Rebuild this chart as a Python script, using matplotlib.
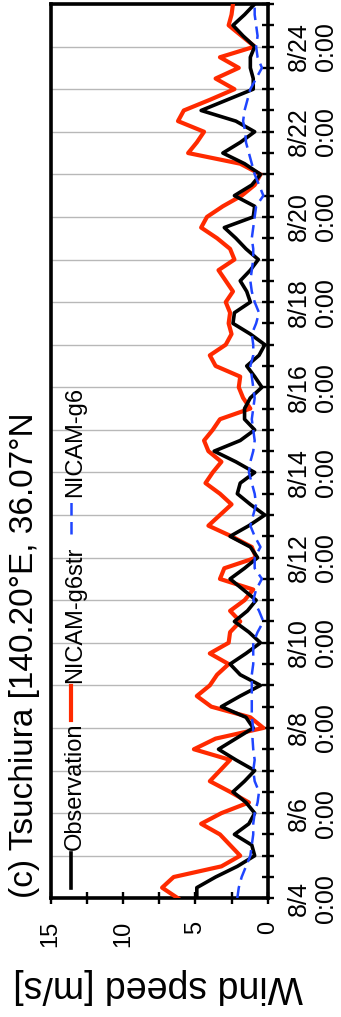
import numpy as np
import matplotlib
matplotlib.use("Agg")
import matplotlib.pyplot as plt
from matplotlib.lines import Line2D

plt.rcParams['font.family'] = ['Liberation Sans', 'DejaVu Sans']

# 6-hourly wind speed [m/s], starting 8/4 0:00
observation = [
    4.9, 4.9, 3.6, 2.1,
    0.9, 1.1, 2.3, 1.3,
    0.9, 1.5, 2.4, 1.6,
    0.9, 2.2, 3.4, 2.2,
    1.0, 1.5, 3.2, 1.9,
    0.5, 1.9, 2.6, 1.5,
    0.5, 1.3, 2.3, 1.4,
    0.8, 1.7, 2.6, 1.6,
    0.7, 1.2, 2.6, 1.3,
    0.2, 1.2, 2.1, 1.9,
    0.9, 2.2, 3.7, 1.9,
    0.9, 1.6, 1.6, 1.2,
    0.4, 0.9, 1.45, 0.6,
    0.2, 1.2, 2.4, 2.3,
    1.2, 1.45, 1.9, 1.2,
    0.65, 1.5, 2.2, 3.0,
    1.0, 0.9, 2.3, 1.1,
    0.5, 1.6, 3.1, 1.9,
    0.9, 2.2, 4.6, 2.8,
    1.0, 1.0, 1.2, 1.2,
    0.9, 1.7, 2.4, 1.6,
    0.9,
]
nicam_g6str = [
    6.2, 7.3, 6.5, 3.2,
    1.9, 2.6, 3.3, 4.6,
    3.2, 1.3, 2.6, 4.0,
    3.3, 2.6, 5.1, 3.6,
    0.3, 1.2, 3.9, 4.9,
    4.0, 3.5, 2.7, 4.0,
    2.7, 2.6, 1.9, 2.6,
    1.6, 1.0, 3.3, 3.0,
    0.8, 1.1, 2.5, 4.1,
    3.3, 2.5, 3.3, 4.3,
    3.8, 3.2, 4.1, 4.4,
    3.8, 3.3, 1.2, 1.7,
    2.0, 1.9, 3.6, 4.0,
    2.9, 2.5, 2.7, 2.6,
    2.9, 2.4, 2.9, 3.4,
    2.3, 2.6, 3.5, 4.6,
    4.2, 3.1, 1.8, 0.9,
    0.5, 1.9, 5.5, 4.9,
    4.4, 6.2, 5.8, 4.0,
    2.3, 3.6, 2.0, 3.3,
    0.9, 1.8, 2.7, 2.5,
    2.4,
]
nicam_g6 = [
    2.1, 2.0, 1.8, 1.5,
    1.2, 1.1, 1.0, 1.0,
    0.9, 0.7, 0.6, 0.9,
    1.0, 0.9, 1.0, 1.05,
    1.0, 1.1, 1.1, 1.1,
    1.1, 1.1, 1.0, 1.0,
    1.0, 0.7, 0.3, 0.6,
    1.0, 0.8, 0.4, 0.9,
    0.9, 0.5, 0.9, 1.2,
    1.0, 0.8, 0.9, 1.1,
    1.3, 1.2, 1.0, 0.9,
    1.0, 1.1, 1.0, 0.9,
    1.0, 1.1, 1.2, 1.0,
    1.0, 1.1, 0.8, 0.6,
    0.9, 1.1, 1.2, 1.1,
    1.0, 1.0, 1.1, 1.0,
    0.9, 0.8, 0.3, 0.6,
    0.9, 1.1, 1.3, 1.5,
    1.55, 1.7, 1.6, 1.4,
    1.2, 0.8, 0.4, 0.7,
    0.8, 0.7, 0.8, 0.9,
    0.9,
]
step_days = 0.25
date_labels = ["8/4\n0:00", "", "8/6\n0:00", "", "8/8\n0:00", "", "8/10\n0:00", "",
               "8/12\n0:00", "", "8/14\n0:00", "", "8/16\n0:00", "", "8/18\n0:00", "",
               "8/20\n0:00", "", "8/22\n0:00", "", "8/24\n0:00", ""]
speed_ticks = [0, 5, 10, 15]
speed_labels = ["0", "5", "10", "15"]
series_names = ["Observation", "NICAM-g6str", "NICAM-g6"]
title_text = "(c) Tsuchiura [140.20°E, 36.07°N"
axis_label = "Wind speed [m/s]"

W, H = 341, 1017
fig = plt.figure(figsize=(W / 100, H / 100), dpi=100)


def fx(px):
    return px / W


def fy(py):
    return 1 - py / H


ax_l, ax_r, ax_t, ax_b = 50.7, 267.7, 4.0, 898.3
ax = fig.add_axes([fx(ax_l), fy(ax_b), (ax_r - ax_l) / W, (ax_b - ax_t) / H])

t = np.arange(len(observation)) * step_days
red, blue = '#ff2a00', '#1f45ff'
obs_style = dict(color='black', lw=2.6)
str_style = dict(color=red, lw=3.0)
g6_style = dict(color=blue, lw=1.8, dashes=(5.0, 2.6))

ax.plot(nicam_g6str, t, zorder=3, **str_style)
ax.plot(observation, t, zorder=4, **obs_style)
ax.plot(nicam_g6, t, zorder=5, **g6_style)

ax.set_xlim(15, 0)
ax.set_ylim(0, 21)

# time axis (vertical): daily grid, half-day ticks, labels every 2 days
ax.yaxis.tick_right()
ax.set_yticks(np.arange(0, 22, 1))
ax.set_yticklabels(date_labels)
ax.set_yticks(np.arange(0.5, 21, 1), minor=True)
ax.grid(True, axis='y', which='major', color='#b8b8b8', lw=1.0, zorder=1)
ax.tick_params(axis='y', which='both', direction='inout', length=9, width=1.7,
               right=True, left=False, pad=9, labelsize=18)
for lab in ax.get_yticklabels():
    lab.set_rotation(90)
    lab.set_va('center')
    lab.set_ha('left')
    lab.set_multialignment('center')
    lab.set_linespacing(1.2)

# speed axis (horizontal)
ax.set_xticks(speed_ticks)
ax.set_xticklabels(speed_labels)
ax.set_xticks([2.5, 7.5, 12.5], minor=True)
ax.tick_params(axis='x', which='both', direction='inout', length=9, width=1.7,
               bottom=True, top=False, pad=12, labelsize=17)
for lab in ax.get_xticklabels():
    lab.set_rotation(90)
    lab.set_ha('center')
    lab.set_va('top')

for s in ax.spines.values():
    s.set_linewidth(2.6)

fig.text(fx(158.5), fy(985.5), axis_label, rotation=180, ha='center', va='center',
         fontsize=27)

fig.text(fx(33.5), fy(898.0), title_text, rotation=90, rotation_mode='anchor',
         ha='left', va='baseline', fontsize=24)

# legend drawn along the time axis
legend_items = [
    (series_names[0], obs_style, 888, 853, 850),
    (series_names[1], str_style, 720, 686, 683),
    (series_names[2], g6_style, 534, 500, 497),
]
for name, style, y0, y1, ytext in legend_items:
    fig.add_artist(Line2D([fx(70.5), fx(70.5)], [fy(y0), fy(y1)],
                          transform=fig.transFigure, **style))
    fig.text(fx(81.0), fy(ytext), name, rotation=90, rotation_mode='anchor',
             ha='left', va='baseline', fontsize=17)

fig.savefig('out.png', dpi=100)
